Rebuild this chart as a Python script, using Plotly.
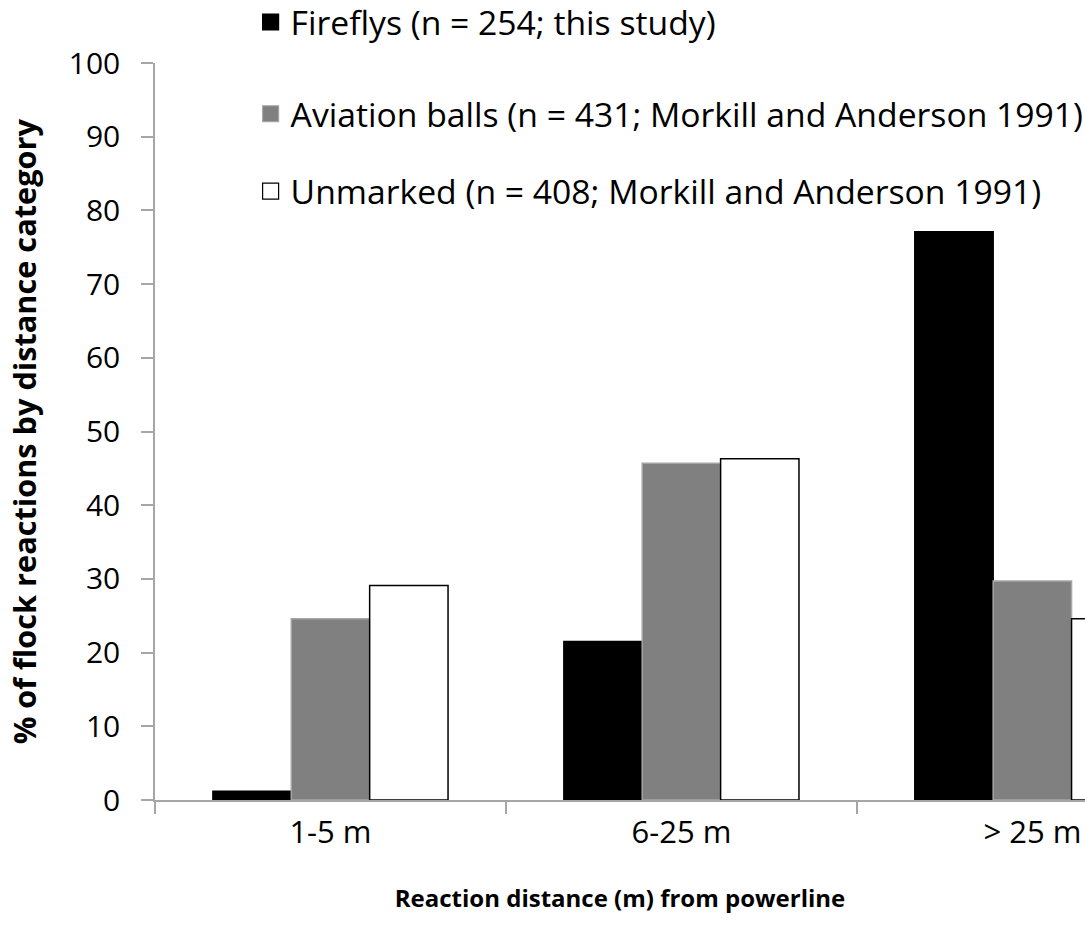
import plotly.graph_objects as go

categories = ["1-5 m", "6-25 m", "> 25 m"]
fireflys = [1.2, 21.5, 77.1]
aviation = [24.6, 45.7, 29.7]
unmarked = [29.1, 46.3, 24.6]
series_names = [
    "Fireflys (n = 254; this study)",
    "Aviation balls (n = 431; Morkill and Anderson 1991)",
    "Unmarked (n = 408; Morkill and Anderson 1991)",
]
y_ticks = [0, 10, 20, 30, 40, 50, 60, 70, 80, 90, 100]

FONT = "Open Sans"
fills = ["#000000", "#808080", "#ffffff"]
edges = ["#000000", "#a6a6a6", "#000000"]
values = [fireflys, aviation, unmarked]
legend_ids = ["legend", "legend2", "legend3"]

fig = go.Figure()
for name, vals, fc, ec in zip(series_names, values, fills, edges):
    fig.add_trace(go.Bar(
        x=categories, y=vals, name=name, showlegend=False,
        marker=dict(color=fc, line=dict(color=ec, width=1.5)),
    ))

for name, fc, ec, lid in zip(series_names, fills, edges, legend_ids):
    fig.add_trace(go.Scatter(
        x=[None], y=[None], mode="markers", name=name, legend=lid,
        marker=dict(symbol="square", size=16, color=fc, line=dict(color=ec, width=1.2)),
    ))

leg_common = dict(
    x=0.1028, xanchor="left", yanchor="middle", bgcolor="rgba(0,0,0,0)",
    font=dict(family=FONT, size=33.7, color="#000000"), itemwidth=30,
)
fig.update_layout(
    width=1085, height=943,
    margin=dict(l=155, r=0, t=63, b=143, autoexpand=False),
    paper_bgcolor="white", plot_bgcolor="white",
    barmode="group", bargap=0.33, bargroupgap=0,
    font=dict(family=FONT, color="#000000"),
    legend=dict(y=1.0555, **leg_common),
    legend2=dict(y=0.931, **leg_common),
    legend3=dict(y=0.826, **leg_common),
    xaxis=dict(
        type="category", range=[-0.5, 2.15],
        showline=True, linecolor="#a6a6a6", linewidth=1.5,
        ticks="outside", tickson="boundaries", ticklen=12, tickcolor="#a6a6a6", tickwidth=1.5,
        tickfont=dict(family=FONT, size=31, color="#000000"),
        ticklabelstandoff=4,
        showgrid=False, zeroline=False,
        title=dict(text="<b>Reaction distance (m) from powerline</b>",
                   font=dict(family=FONT, size=24, color="#000000"), standoff=39),
    ),
    yaxis=dict(
        range=[0, 100], tickvals=y_ticks,
        showline=True, linecolor="#a6a6a6", linewidth=1.5,
        ticks="outside", ticklen=12, tickcolor="#a6a6a6", tickwidth=1.5,
        tickfont=dict(family=FONT, size=30, color="#000000"),
        ticklabelstandoff=15,
        showgrid=False, zeroline=False,
    ),
    annotations=[dict(
        text="<b>% of flock reactions by distance category</b>",
        xref="paper", yref="paper", x=-0.141, y=0.5,
        xanchor="center", yanchor="middle", textangle=-90, showarrow=False,
        font=dict(family=FONT, size=30.7, color="#000000"),
    )],
)

fig.write_html(
    "out.html",
    config={"displayModeBar": False},
    post_script="document.body.style.margin='0';document.body.style.overflow='hidden';",
)
